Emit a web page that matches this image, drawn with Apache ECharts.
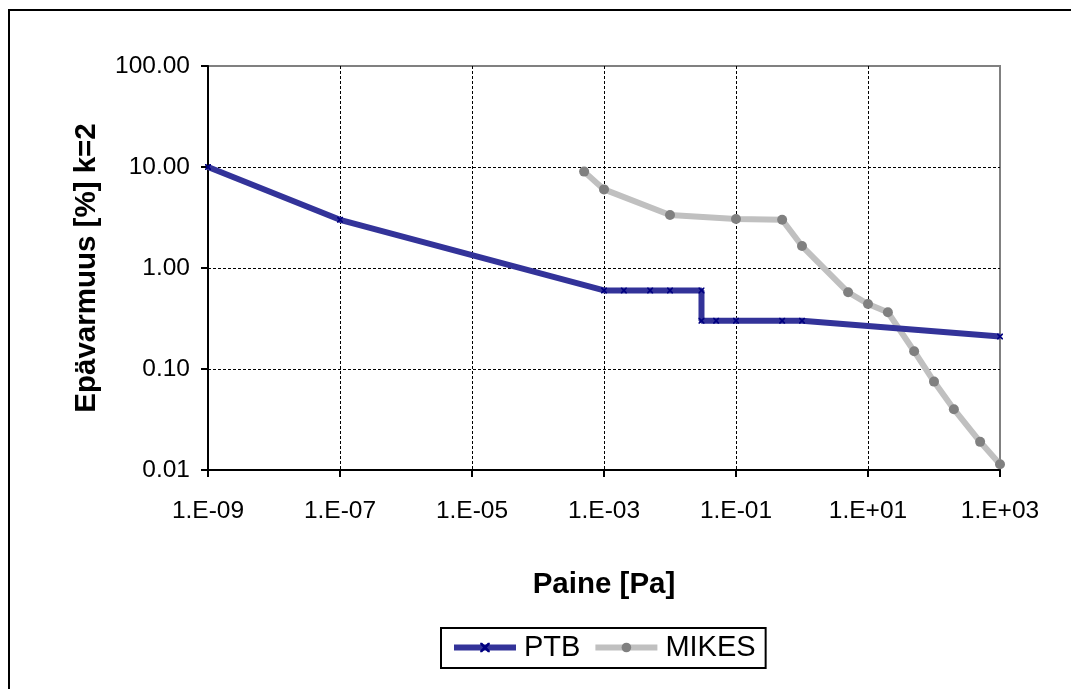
<!DOCTYPE html>
<html lang="fi">
<head>
    <meta charset="UTF-8">
    <title>Epävarmuus</title>
    <script src="https://cdn.jsdelivr.net/npm/echarts@6/dist/echarts.min.js"></script>
    <style>
        html, body { margin: 0; padding: 0; background: #fff; }
        .box { width: 1071px; height: 689px; }
    </style>
</head>
<body>
    <div class="box"></div>
    <script>
        // pressure [Pa] / uncertainty [%] (k=2)
        var ptbX = [1e-9, 1e-7, 1e-3, 2e-3, 5e-3, 1e-2, 3e-2, 3e-2, 5e-2, 0.1, 0.5, 1, 1000];
        var ptbY = [10, 3, 0.6, 0.6, 0.6, 0.6, 0.6, 0.3, 0.3, 0.3, 0.3, 0.3, 0.21];
        var mikesX = [5e-4, 1e-3, 1e-2, 0.1, 0.5, 1, 5, 10, 20, 50, 100, 200, 500, 1000];
        var mikesY = [9, 6, 3.35, 3.05, 3.0, 1.65, 0.575, 0.44, 0.365, 0.15, 0.075, 0.04, 0.019, 0.0114];

        var xTickLabels = ['1.E-09', '1.E-07', '1.E-05', '1.E-03', '1.E-01', '1.E+01', '1.E+03'];
        var yTickLabels = ['0.01', '0.10', '1.00', '10.00', '100.00'];

        function pairs(xs, ys) {
            var out = [];
            for (var i = 0; i < xs.length; i++) out.push([xs[i], ys[i]]);
            return out;
        }

        var font = 'Arial, "Liberation Sans", sans-serif';
        var xMark = 'path://M0,0L2,0L5,3L8,0L10,0L10,2L7,5L10,8L10,10L8,10L5,7L2,10L0,10L0,8L3,5L0,2Z';

        let chart = echarts.init(document.querySelector('.box'));
        let option = {
            backgroundColor: '#fff',
            animation: false,
            graphic: [{
                type: 'rect',
                shape: { x: 9, y: 10, width: 1100, height: 700 },
                style: { fill: 'none', stroke: '#000', lineWidth: 2 },
                silent: true
            }],
            grid: {
                left: 208, right: 71, top: 66, bottom: 219,
                show: true, borderColor: '#808080', borderWidth: 2,
                backgroundColor: 'transparent'
            },
            legend: {
                left: 441, top: 628,
                padding: [5, 10, 6, 10],
                borderColor: '#000', borderWidth: 2,
                itemWidth: 62, itemHeight: 12, itemGap: 12,
                lineStyle: { width: 6 },
                textStyle: { fontFamily: font, fontSize: 29, color: '#000', padding: [0, 0, 0, 3] },
                data: ['PTB', 'MIKES']
            },
            xAxis: {
                type: 'log', logBase: 10, min: 1e-9, max: 1e3, interval: 2,
                name: 'Paine [Pa]', nameLocation: 'middle', nameGap: 100,
                nameTextStyle: { fontFamily: font, fontSize: 29.5, fontWeight: 'bold', color: '#000' },
                axisLine: { lineStyle: { color: '#000', width: 2 } },
                axisTick: { show: true, length: 7, lineStyle: { color: '#000', width: 2 } },
                minorTick: { show: false },
                axisLabel: {
                    margin: 29, fontFamily: font, fontSize: 24.5, color: '#000',
                    formatter: function (v, i) { return xTickLabels[i]; }
                },
                splitLine: { show: true, showMaxLine: false, lineStyle: { color: '#000', width: 1, type: [3, 2] } }
            },
            yAxis: {
                type: 'log', logBase: 10, min: 0.01, max: 100, interval: 1,
                name: 'Epävarmuus [%] k=2', nameLocation: 'middle', nameGap: 106,
                nameTextStyle: { fontFamily: font, fontSize: 29.5, fontWeight: 'bold', color: '#000' },
                axisLine: { lineStyle: { color: '#000', width: 2 } },
                axisTick: { show: true, length: 7, lineStyle: { color: '#000', width: 2 } },
                minorTick: { show: false },
                axisLabel: {
                    margin: 18, fontFamily: font, fontSize: 24.5, color: '#000',
                    formatter: function (v, i) { return yTickLabels[i]; }
                },
                splitLine: { show: true, showMaxLine: false, lineStyle: { color: '#000', width: 1, type: [3, 2] } }
            },
            series: [{
                name: 'PTB', type: 'line',
                data: pairs(ptbX, ptbY),
                symbol: xMark, symbolSize: 6,
                lineStyle: { color: '#333399', width: 6 },
                itemStyle: { color: '#000080' },
                z: 3
            }, {
                name: 'MIKES', type: 'line',
                data: pairs(mikesX, mikesY),
                symbol: 'circle', symbolSize: 10,
                lineStyle: { color: '#c0c0c0', width: 6 },
                itemStyle: { color: '#808080' },
                z: 2
            }]
        };
        chart.setOption(option);
    </script>
</body>
</html>
